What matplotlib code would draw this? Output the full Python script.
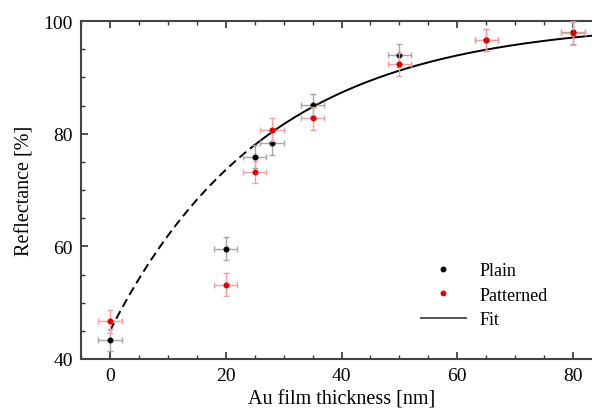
import numpy as np
import matplotlib
matplotlib.use("Agg")
import matplotlib.pyplot as plt
from matplotlib.ticker import MultipleLocator
from matplotlib.lines import Line2D

plt.rcParams['font.family'] = ['Liberation Serif', 'DejaVu Serif']

# Data
thickness = [0, 20, 25, 28, 35, 50, 65, 80]
plain = [43.4, 59.6, 75.9, 78.3, 85.1, 93.9, 96.6, 98.0]
patterned = [46.7, 53.2, 73.2, 80.7, 82.7, 92.3, 96.6, 97.8]
x_err = [2, 2, 2, 2, 2, 2, 2, 2]
plain_err = [2, 2, 2, 2, 2, 2, 2, 2]
patterned_err = [2, 2, 2, 2, 2, 2, 2, 2]

# Fit model y = A - B*exp(-x/tau)
fit_A = 100.0
fit_B = 55.0
fit_tau = 27.3
fit_solid_start = 25
fit_end = 85

def fit(x):
    return fit_A - fit_B * np.exp(-x / fit_tau)

fig = plt.figure(figsize=(5.92, 4.10), dpi=100)
ax = fig.add_axes([81/592, 1-360/410, 521/592, 338/410])

ax.errorbar(thickness, plain, xerr=x_err, yerr=plain_err, fmt='o', color='black',
            ms=3.3, ecolor='#a8a8a8', elinewidth=1.0, capsize=2.5, capthick=1.0,
            label='Plain', zorder=3)
ax.errorbar(thickness, patterned, xerr=x_err, yerr=patterned_err, fmt='o', color='#e00000',
            ms=3.3, ecolor='#f4a0a0', elinewidth=1.0, capsize=2.5, capthick=1.0,
            label='Patterned', zorder=4)

xd = np.linspace(0, fit_solid_start, 100)
xs = np.linspace(fit_solid_start, fit_end, 200)
ax.plot(xd, fit(xd), color='black', lw=1.4, ls=(0, (4.5, 2.5)), zorder=2)
ax.plot(xs, fit(xs), color='black', lw=1.4, label='Fit', zorder=2)

ax.set_xlim(-5, 85)
ax.set_ylim(40, 100)
ax.xaxis.set_major_locator(MultipleLocator(20))
ax.xaxis.set_minor_locator(MultipleLocator(5))
ax.yaxis.set_major_locator(MultipleLocator(20))
ax.yaxis.set_minor_locator(MultipleLocator(5))
ax.tick_params(which='both', direction='in', top=True, right=True, color='#333333',
               labelsize=14, pad=6)
ax.tick_params(which='major', length=5, width=1.2)
ax.tick_params(which='minor', length=3, width=1.0)
for s in ax.spines.values():
    s.set_color('#444444')
    s.set_linewidth(1.5)

ax.set_xlabel('Au film thickness [nm]', fontsize=14.5, labelpad=4)
ax.set_ylabel('Reflectance [%]', fontsize=14.5, labelpad=6)

h = [Line2D([], [], marker='o', ls='none', color='black', ms=3.2),
     Line2D([], [], marker='o', ls='none', color='#e00000', ms=3.2),
     Line2D([], [], color='#555555', lw=1.4)]
ax.legend(h, ['Plain', 'Patterned', 'Fit'], loc='upper left',
          bbox_to_anchor=(0.652, 0.287), frameon=False, fontsize=13,
          handlelength=2.5, handletextpad=0.75, labelspacing=0.42,
          borderpad=0, borderaxespad=0)

fig.savefig('out.png', dpi=100)
